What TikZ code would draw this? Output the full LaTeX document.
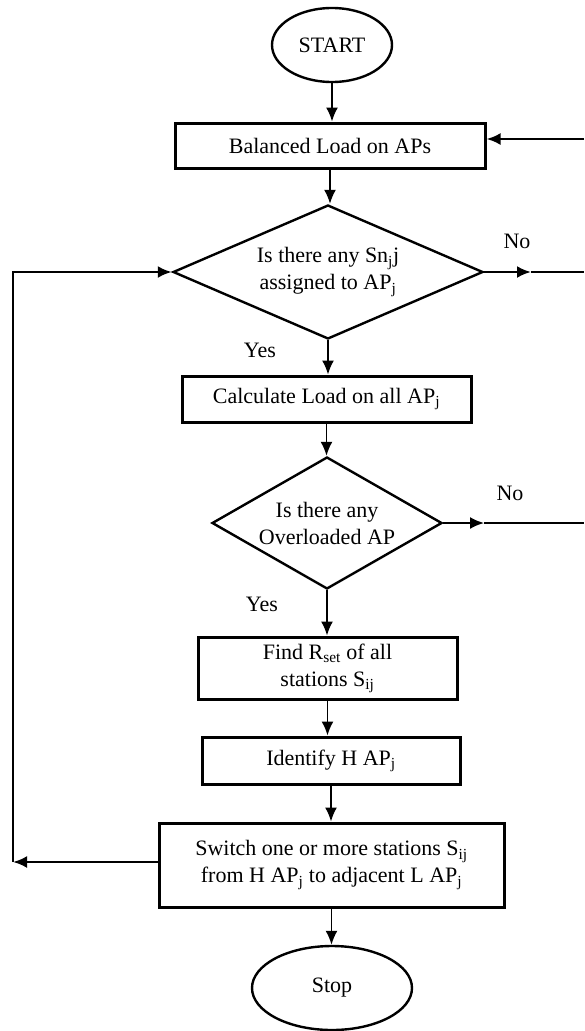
\documentclass[tikz,border=0pt]{standalone}
\usepackage{fontspec}
\setmainfont{Liberation Serif}
\usetikzlibrary{shapes.geometric,arrows.meta}
\tikzset{
  procbox/.style={draw, line width=3pt, rectangle, align=center, inner sep=0pt},
  decision/.style={draw, line width=2.4pt, diamond, inner sep=0pt},
  terminal/.style={draw, line width=2.4pt, ellipse, inner sep=0pt},
  flow/.style={line width=1.7pt, -{Latex[length=14pt,width=12pt]}},
  loopline/.style={line width=2.6pt},
  looparrow/.style={line width=2.6pt, -{Latex[length=14pt,width=12pt]}},
  lbl/.style={inner sep=0pt}
}
\begin{document}
\begin{tikzpicture}[x=1pt,y=-1pt,font=\fontsize{22}{27}\selectfont]
    \useasboundingbox (0,0) rectangle (584,1031);
    \node[terminal, minimum width=120, minimum height=74] (start) at (332,45) {START};
    \node[procbox, minimum width=310, minimum height=45] (balance) at (330,145.5) {Balanced Load on APs};
    \node[decision, minimum width=310, minimum height=134,
          label={[align=center]center:Is there any Sn\textsubscript{j}j\\assigned to AP\textsubscript{j}}] (anysn) at (328,272) {};
    \node[procbox, minimum width=289, minimum height=46] (calc) at (326.5,399) {Calculate Load on all AP\textsubscript{j}};
    \node[decision, minimum width=230, minimum height=132,
          label={[align=center]center:Is there any\\Overloaded AP}] (overload) at (327,523) {};
    \node[procbox, minimum width=259, minimum height=62] (rset) at (327.5,668) {Find R\textsubscript{set} of all\\stations S\textsubscript{ij}};
    \node[procbox, minimum width=258, minimum height=47] (ident) at (331,760.5) {Identify H AP\textsubscript{j}};
    \node[procbox, minimum width=345, minimum height=84] (switch) at (331.5,865) {Switch one or more stations S\textsubscript{ij}\\from H AP\textsubscript{j} to adjacent L AP\textsubscript{j}};
    \node[terminal, minimum width=160, minimum height=84] (stop) at (332,988) {Stop};
    % branch labels
    \node[lbl] (no1) at (517,241) {No};
    \node[lbl] (yes1) at (260,350) {Yes};
    \node[lbl] (no2) at (510,493) {No};
    \node[lbl] (yes2) at (262,604) {Yes};
    \coordinate (rt1) at (584,139);
    \coordinate (rt2) at (584,272);
    \coordinate (rt3) at (584,523);
    \coordinate (mid1) at (531,272);
    \coordinate (mid2) at (484,523);
    \coordinate (lc) at (13,862);
    \coordinate (lt) at (13,272);
    % main flow
    \draw[flow] (start.south) -- (start.south |- balance.north);
    \draw[flow] (balance.south) -- (balance.south |- anysn.north);
    \draw[flow] (anysn.south) -- (anysn.south |- calc.north);
    \draw[flow] (calc.south) -- (calc.south |- overload.north);
    \draw[flow] (overload.south) -- (overload.south |- rset.north);
    \draw[flow] (rset.south) -- (rset.south |- ident.north);
    \draw[flow] (ident.south) -- (ident.south |- switch.north);
    \draw[flow] (switch.south) -- (switch.south |- stop.north);
    % side lines
    \draw[looparrow] (rt1) -- (rt1 -| balance.east);
    \draw[looparrow] (anysn.east) -- (mid1);
    \draw[loopline] (mid1) -- (rt2);
    \draw[looparrow, line width=2pt] (overload.east) -- (mid2);
    \draw[loopline, line width=2pt] (mid2) -- (rt3);
    \draw[looparrow] (switch.west |- lc) -- (lc);
    \draw[looparrow] (lc) -- (lt) -- (anysn.west);
\end{tikzpicture}
\end{document}
